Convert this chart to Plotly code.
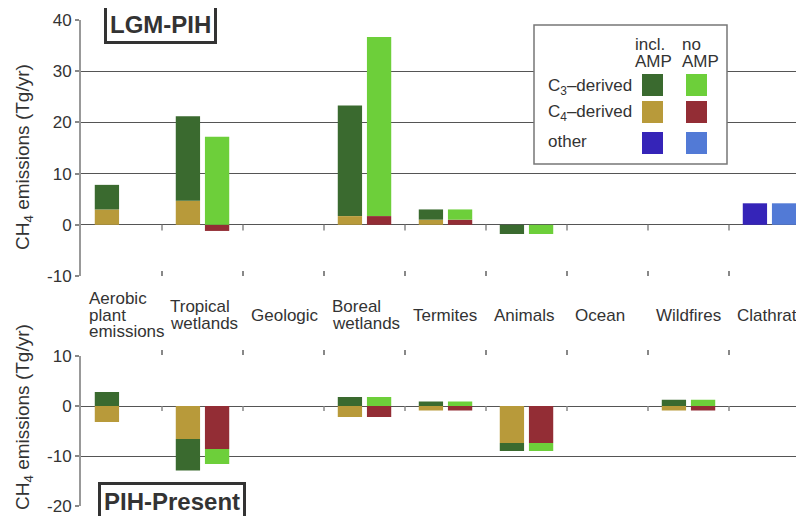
import plotly.graph_objects as go

categories = ["Aerobic<br>plant<br>emissions", "Tropical<br>wetlands", "Geologic", "Boreal<br>wetlands",
              "Termites", "Animals", "Ocean", "Wildfires", "Clathrates"]

# LGM-PIH (top panel), Tg/yr
top_c3_incl = [4.8, 16.5, 0, 21.6, 2.0, -1.8, 0, 0, 0]
top_c4_incl = [3.0, 4.7, 0, 1.7, 1.0, 0, 0, 0, 0]
top_oth_incl = [0, 0, 0, 0, 0, 0, 0, 0, 4.2]
top_c3_no = [0, 17.2, 0, 35.0, 2.0, -1.8, 0, 0, 0]
top_c4_no = [0, -1.2, 0, 1.7, 1.0, 0, 0, 0, 0]
top_oth_no = [0, 0, 0, 0, 0, 0, 0, 0, 4.2]

# PIH-Present (bottom panel), Tg/yr
bot_c3_incl = [2.8, -6.3, 0, 1.8, 0.9, -1.6, 0, 1.25, 0]
bot_c4_incl = [-3.2, -6.6, 0, -2.2, -0.9, -7.4, 0, -0.9, 0]
bot_oth_incl = [0, 0, 0, 0, 0, 0, 0, 0, 0]
bot_c3_no = [0, -3.0, 0, 1.8, 0.9, -1.6, 0, 1.25, 0]
bot_c4_no = [0, -8.6, 0, -2.2, -0.9, -7.4, 0, -0.9, 0]
bot_oth_no = [0, 0, 0, 0, 0, 0, 0, 0, 0]

top_ticks = [40, 30, 20, 10, 0, -10]
bot_ticks = [10, 0, -10, -20]

C3_INCL, C3_NO = "#3a6a2f", "#6dcf3a"
C4_INCL, C4_NO = "#b89a3a", "#932d35"
OT_INCL, OT_NO = "#3524b8", "#527ad6"

FONT = "Liberation Sans, Arial, sans-serif"
TXT = "#333333"
GRID = "#555555"

# page offset (browser body margin)
OFF = 8
W, H = 804 - OFF, 516 - OFF
ML, MT = 81 - OFF, 20 - OFF
MR = 0
MB = H - (506 - OFF)
PW, PH = W - ML - MR, H - MT - MB


def px_x(p):
    return (p - OFF - ML) / PW


def px_y(p):
    return (H - MB - (p - OFF)) / PH


top_dom = [px_y(276), 1.0]
bot_dom = [0.0, px_y(356)]

n = len(categories)
xi = [i - 0.18 for i in range(n)]
xn = [i + 0.18 for i in range(n)]

fig = go.Figure()


def add(xs, ys, color, xa, ya):
    fig.add_trace(go.Bar(x=xs, y=ys, width=0.3, marker=dict(color=color, line=dict(width=0)),
                         xaxis=xa, yaxis=ya, showlegend=False, hoverinfo="skip"))


for xa, ya, data in [("x", "y", [(xi, top_c4_incl, C4_INCL), (xi, top_c3_incl, C3_INCL), (xi, top_oth_incl, OT_INCL),
                                 (xn, top_c4_no, C4_NO), (xn, top_c3_no, C3_NO), (xn, top_oth_no, OT_NO)]),
                     ("x2", "y2", [(xi, bot_c4_incl, C4_INCL), (xi, bot_c3_incl, C3_INCL), (xi, bot_oth_incl, OT_INCL),
                                   (xn, bot_c4_no, C4_NO), (xn, bot_c3_no, C3_NO), (xn, bot_oth_no, OT_NO)])]:
    for xs, ys, c in data:
        add(xs, ys, c, xa, ya)

CAT_PX = 81.0
xr = [-0.5, -0.5 + PW / CAT_PX]
bounds = [i + 0.5 for i in range(n)]


def ylabels(vals):
    return [str(v) for v in vals]


yaxis_common = dict(ticks="outside", ticklen=4, tickwidth=1.5, tickcolor="#888", showline=True,
                    linecolor="#999", linewidth=2, gridcolor=GRID, gridwidth=1.3, zeroline=True,
                    zerolinecolor=GRID, zerolinewidth=1.3, tickfont=dict(size=17, color=TXT))

fig.update_layout(
    width=W, height=H, margin=dict(l=ML, r=MR, t=MT, b=MB),
    paper_bgcolor="white", plot_bgcolor="white", barmode="relative",
    font=dict(family=FONT, size=16, color=TXT),
    xaxis=dict(domain=[0, 1], range=xr, anchor="y", tickmode="array", tickvals=bounds,
               ticks="inside", ticklen=5, tickwidth=1.5, tickcolor="#888", showgrid=False,
               showline=False, zeroline=False, showticklabels=False),
    yaxis=dict(domain=top_dom, range=[-10, 40], tickvals=top_ticks, ticktext=ylabels(top_ticks),
               anchor="x", **yaxis_common),
    xaxis2=dict(domain=[0, 1], range=xr, anchor="y2", side="top", tickmode="array", tickvals=bounds,
                ticks="outside", ticklen=5, tickwidth=1.5, tickcolor="#888", showgrid=False,
                showline=False, zeroline=False, showticklabels=False),
    yaxis2=dict(domain=bot_dom, range=[-20, 10], tickvals=bot_ticks, ticktext=ylabels(bot_ticks),
                anchor="x2", **yaxis_common),
)

shapes = []
# small ticks hanging below the zero lines
for b in bounds:
    shapes.append(dict(type="line", xref="x", yref="y", x0=b, x1=b, y0=0, y1=-1.1,
                       line=dict(color="#888", width=1.5)))
    shapes.append(dict(type="line", xref="x2", yref="y2", x0=b, x1=b, y0=0, y1=-1.0,
                       line=dict(color="#888", width=1.5)))

# legend box
shapes.append(dict(type="rect", xref="paper", yref="paper", x0=px_x(534), x1=px_x(727),
                   y0=px_y(164), y1=px_y(25), fillcolor="white", line=dict(color="#777", width=1.5),
                   layer="above"))
sw_cols = [[C3_INCL, C3_NO], [C4_INCL, C4_NO], [OT_INCL, OT_NO]]
row_y = [85, 112, 143]
col_x = [652.5, 696.5]
for r, cy in enumerate(row_y):
    for c, cx in enumerate(col_x):
        shapes.append(dict(type="rect", xref="paper", yref="paper",
                           x0=px_x(cx - 10.5), x1=px_x(cx + 10.5), y0=px_y(cy + 11), y1=px_y(cy - 11),
                           fillcolor=sw_cols[r][c], line=dict(width=0), layer="above"))
fig.update_layout(shapes=shapes)

ann = []
# y titles
for cy in (157, 417):
    ann.append(dict(text="CH<sub>4</sub> emissions (Tg/yr)", xref="paper", yref="paper", x=px_x(24), y=px_y(cy),
                    textangle=-90, showarrow=False, xanchor="center", yanchor="middle",
                    font=dict(size=19, color=TXT)))
# category labels (one annotation per line, tight line spacing, left aligned)
LINE = 16.5
for i, lab in enumerate(categories):
    lines = lab.split("<br>")
    y0 = 315 - LINE * (len(lines) - 1) / 2
    for k, ln in enumerate(lines):
        ann.append(dict(text=ln, xref="x", yref="paper", x=i - 0.5 + 0.075, y=px_y(y0 + k * LINE),
                        showarrow=False, xanchor="left", yanchor="middle", font=dict(size=17, color=TXT)))
# panel titles
ann.append(dict(text="<b>LGM-PIH</b>", xref="paper", yref="paper", x=px_x(160.5), y=px_y(24.5), showarrow=False,
                xanchor="center", yanchor="middle", font=dict(size=24, color=TXT), bgcolor="white",
                bordercolor="#333", borderwidth=3, borderpad=3))
ann.append(dict(text="<b>PIH-Present</b>", xref="paper", yref="paper", x=px_x(172), y=px_y(501.5), showarrow=False,
                xanchor="center", yanchor="middle", font=dict(size=24, color=TXT), bgcolor="white",
                bordercolor="#333", borderwidth=3, borderpad=3))
# legend texts
for txt, lx in (("incl.", 633), ("no", 680)):
    ann.append(dict(text=txt, xref="paper", yref="paper", x=px_x(lx), y=px_y(44), showarrow=False,
                    xanchor="left", yanchor="middle", font=dict(size=17, color=TXT)))
    ann.append(dict(text="AMP", xref="paper", yref="paper", x=px_x(lx), y=px_y(61), showarrow=False,
                    xanchor="left", yanchor="middle", font=dict(size=17, color=TXT)))
for lab, cy in zip(["C<sub>3</sub>–derived", "C<sub>4</sub>–derived", "other"], [87, 113, 141]):
    ann.append(dict(text=lab, xref="paper", yref="paper", x=px_x(546), y=px_y(cy), showarrow=False,
                    xanchor="left", yanchor="middle", font=dict(size=17, color=TXT)))
fig.update_layout(annotations=ann)

fig.write_html("out.html")
